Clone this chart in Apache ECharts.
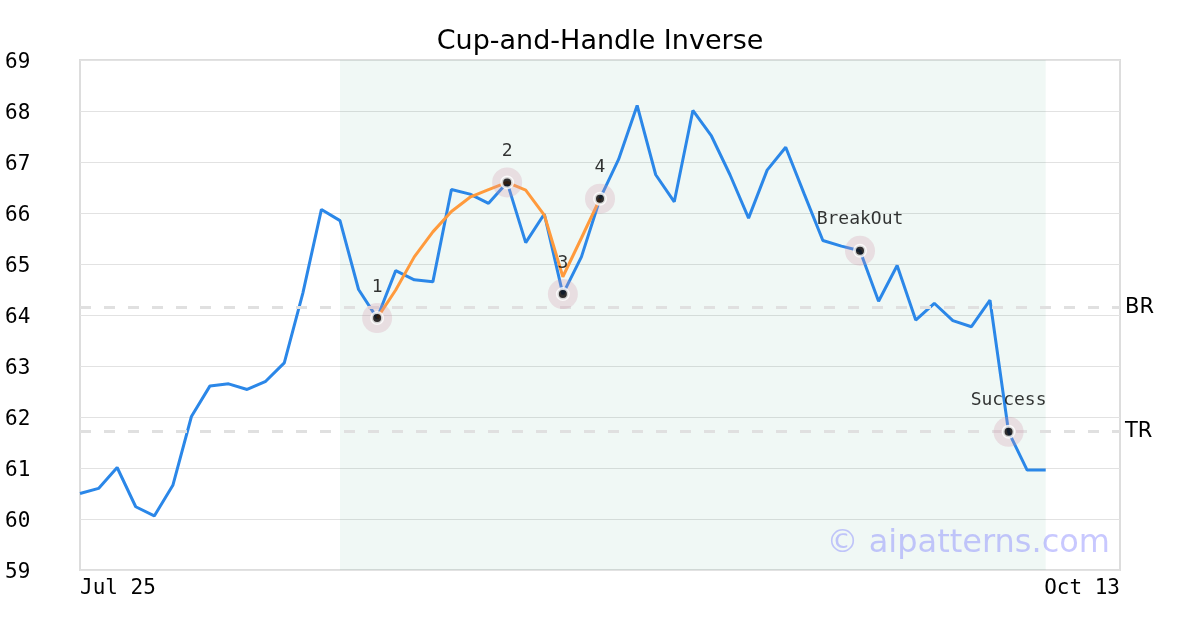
<!DOCTYPE html>
<html>
<head>
<meta charset="utf-8">
<script src="https://cdn.jsdelivr.net/npm/echarts@6/dist/echarts.min.js"></script>
<style>html,body{margin:0;padding:0;background:#fff}#c{width:1200px;height:630px}</style>
</head>
<body>
<div id="c"></div>
<script>
// ---- data ----
const title = "Cup-and-Handle Inverse";
const xLabels = ["Jul 25", "Oct 13"];
const xMaxIndex = 56;
const yTicks = [59, 60, 61, 62, 63, 64, 65, 66, 67, 68, 69];
const prices = [
  60.50, 60.60, 61.01, 60.24, 60.06, 60.66, 62.01, 62.61, 62.65, 62.54,
  62.70, 63.06, 64.43, 66.07, 65.85, 64.50, 63.94, 64.87, 64.69, 64.65,
  66.46, 66.37, 66.19, 66.60, 65.42, 65.98, 64.41, 65.14, 66.28, 67.05,
  68.11, 66.75, 66.22, 68.01, 67.51, 66.75, 65.90, 66.84, 67.29, 66.37,
  65.46, 65.35, 65.26, 64.27, 64.97, 63.90, 64.23, 63.89, 63.77, 64.29,
  61.71, 60.96, 60.96
];
const cupStart = 16;
const cupValues = [63.94, 64.49, 65.14, 65.63, 66.03, 66.31, 66.46, 66.60, 66.45, 65.96, 64.75, 65.51, 66.28];
const markIdx = [16, 23, 26, 28, 42, 50];
const markNames = ["1", "2", "3", "4", "BreakOut", "Success"];
const levelNames = ["BR", "TR"];
const levelValues = [64.15, 61.72];
const shadeRange = [14, 52];
const watermark = "© aipatterns.com";

// ---- build ----
const priceData = prices.map((v, i) => [i, v]);
const cupData = cupValues.map((v, i) => [cupStart + i, v]);
const markData = markIdx.map((i, k) => ({ value: [i, prices[i]], name: markNames[k] }));

const mono = "DejaVu Sans Mono";
const sans = "DejaVu Sans";

const chart = echarts.init(document.getElementById('c'), null, { renderer: 'canvas' });
chart.setOption({
  animation: false,
  backgroundColor: '#fff',
  title: {
    text: title, left: 'center', top: 23,
    textStyle: { fontFamily: sans, fontSize: 27, fontWeight: 'normal', color: '#000' }
  },
  grid: {
    left: 80, right: 80, top: 60, bottom: 60,
    show: true, borderColor: '#dddddd', borderWidth: 2, backgroundColor: 'transparent'
  },
  xAxis: {
    type: 'value', min: 0, max: xMaxIndex, interval: xMaxIndex,
    axisLine: { show: false }, axisTick: { show: false }, splitLine: { show: false },
    axisLabel: {
      fontFamily: mono, fontSize: 21, color: '#000', margin: 8,
      alignMinLabel: 'left', alignMaxLabel: 'right',
      formatter: v => v === 0 ? xLabels[0] : (v === xMaxIndex ? xLabels[1] : '')
    }
  },
  yAxis: {
    type: 'value', min: yTicks[0], max: yTicks[yTicks.length - 1], interval: 1,
    axisLine: { show: false }, axisTick: { show: false },
    splitLine: { show: true, lineStyle: { color: '#e2e2e2', width: 1 } },
    axisLabel: { fontFamily: mono, fontSize: 21, color: '#000', align: 'left', margin: 75, verticalAlign: 'top', lineHeight: 6 }
  },
  graphic: [{
    type: 'text', right: 90, bottom: 70, z: 100,
    style: { text: watermark, font: '32px "DejaVu Sans"', fill: 'rgba(125,125,255,0.42)' }
  }],
  series: [
    {
      type: 'line', data: priceData, symbol: 'none', z: 3,
      lineStyle: { color: '#2b87e8', width: 3 },
      markArea: {
        silent: true,
        itemStyle: { color: 'rgba(0,140,90,0.06)' },
        data: [[{ xAxis: shadeRange[0] }, { xAxis: shadeRange[1] }]]
      },
      markLine: {
        silent: true, symbol: 'none',
        lineStyle: { color: '#e0e0e0', width: 3, type: [11, 13] },
        label: { show: true, position: 'end', distance: 5, fontFamily: sans, fontSize: 21, color: '#000', formatter: p => p.name },
        data: levelValues.map((v, k) => ({ yAxis: v, name: levelNames[k] }))
      }
    },
    {
      type: 'line', data: cupData, symbol: 'none', z: 4,
      lineStyle: { color: '#ff9a3c', width: 3 }
    },
    {
      type: 'scatter', data: markData, z: 5, symbolSize: 30,
      itemStyle: { color: 'rgba(210,150,170,0.33)' }
    },
    {
      type: 'scatter', data: markData, z: 6, symbolSize: 11,
      itemStyle: { color: '#000', borderColor: '#fff', borderWidth: 3 },
      label: { show: true, position: 'top', distance: 15, fontFamily: mono, fontSize: 18, color: '#000', formatter: p => p.name }
    }
  ]
});
</script>
</body>
</html>
